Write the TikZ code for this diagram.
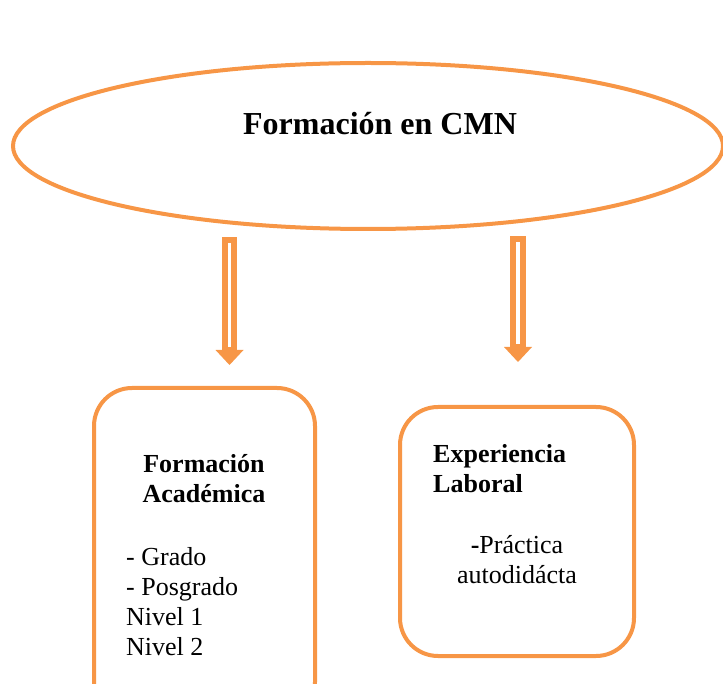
\documentclass[tikz,border=0pt]{standalone}
\usepackage{fontspec}
\setmainfont{Liberation Serif}
\usetikzlibrary{shapes.geometric,calc}
\definecolor{naranja}{RGB}{247,150,70}

% flecha hueca hacia abajo: #1 inicio, #2 punta
\newcommand{\flechahueca}[2]{%
  \draw[flecha] ($(#1)+(-4.5,3)$) rectangle ($(#2)+(4.5,-15)$);
  \fill[naranja] ($(#2)+(-14,-15)$) -- ($(#2)+(14,-15)$) -- (#2) -- cycle;}

\begin{document}
\begin{tikzpicture}[x=1pt, y=-1pt,
  borde/.style={draw=naranja, line width=4pt},
  caja/.style={borde, rounded corners=38pt, fill=white},
  flecha/.style={draw=naranja, line width=6pt, fill=white},
  texto/.style={font=\fontsize{26}{30}\selectfont, inner sep=0pt},
  negrita/.style={texto, font=\bfseries\fontsize{26}{30}\selectfont}]

\useasboundingbox (0,0) rectangle (723,684);
\clip (0,0) rectangle (723,684);

% Elipse principal
\node[borde, ellipse, minimum width=710pt, minimum height=166pt, inner sep=0pt] (cmn) at (368,146) {};
\node[font=\bfseries\fontsize{32}{36}\selectfont, inner sep=0pt, anchor=base] (titulo) at (380,135) {Formación en CMN};

% Cajas
\node[caja, minimum width=221pt, minimum height=332pt] (acad) at (204.5,554) {};
\node[caja, minimum width=234pt, minimum height=249pt] (exp) at (517,531.5) {};

% Flechas
\coordinate (f1ini) at (229.5,237);
\coordinate (f1fin) at (229.5,365);
\coordinate (f2ini) at (517.5,236);
\coordinate (f2fin) at (518,362);
\flechahueca{f1ini}{f1fin}
\flechahueca{f2ini}{f2fin}

% Textos de la caja izquierda (base = ultima linea)
\node[negrita, align=center, anchor=base] (acadtit) at (204,502) {Formación\\Académica};
\node[texto, align=left, anchor=base west] (acadlista) at (126,655) {- Grado\\- Posgrado\\Nivel 1\\Nivel 2};

% Textos de la caja derecha
\node[negrita, align=left, anchor=base west] (exptit) at (433,492) {Experiencia\\Laboral};
\node[texto, align=center, anchor=base] (expcuerpo) at (517,583) {\textbf{-}Práctica\\autodidácta};
\end{tikzpicture}
\end{document}
